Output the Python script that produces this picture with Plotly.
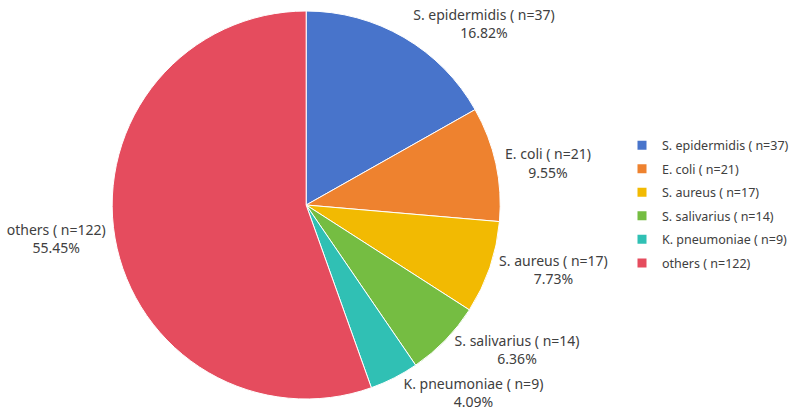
import plotly.graph_objects as go

labels = ["S. epidermidis ( n=37)", "E. coli ( n=21)", "S. aureus ( n=17)",
          "S. salivarius ( n=14)", "K. pneumoniae ( n=9)", "others ( n=122)"]
values = [37, 21, 17, 14, 9, 122]
colors = ["#4874CB", "#EE822F", "#F2BA02", "#75BD42", "#30C0B4", "#E54C5E"]

W, H = 794, 416
cx, cr = 259, 214
TXT = "#404040"
FONT = "Noto Sans, Open Sans, sans-serif"

fig = go.Figure()
fig.add_trace(go.Pie(
    labels=labels, values=values, sort=False, direction="clockwise", rotation=0,
    marker=dict(colors=colors, line=dict(color="white", width=1)),
    texttemplate="%{label}<br>%{percent:.2%}",
    textposition="outside",
    outsidetextfont=dict(color=TXT, size=14, family=FONT),
    hoverinfo="label+value+percent", showlegend=False,
    domain=dict(x=[(cx - cr) / W, (cx + cr) / W], y=[0, 1]),
))
# legend entries (one per slice, same labels/colours)
for lab, col in zip(labels, colors):
    fig.add_trace(go.Scatter(
        x=[None], y=[None], mode="markers", name=lab, legendgroup=lab,
        marker=dict(symbol="square", size=9, color=col), hoverinfo="skip",
    ))
fig.update_layout(
    width=W, height=H,
    margin=dict(l=0, r=0, t=0, b=0),
    paper_bgcolor="white", plot_bgcolor="white",
    xaxis=dict(visible=False), yaxis=dict(visible=False),
    font=dict(family=FONT, size=13, color=TXT),
    legend=dict(x=1, y=0.692, xanchor="right", yanchor="top",
                font=dict(size=12.5, color=TXT), tracegroupgap=4.3,
                itemwidth=30, bgcolor="rgba(0,0,0,0)"),
)
fig.write_html("out.html")
